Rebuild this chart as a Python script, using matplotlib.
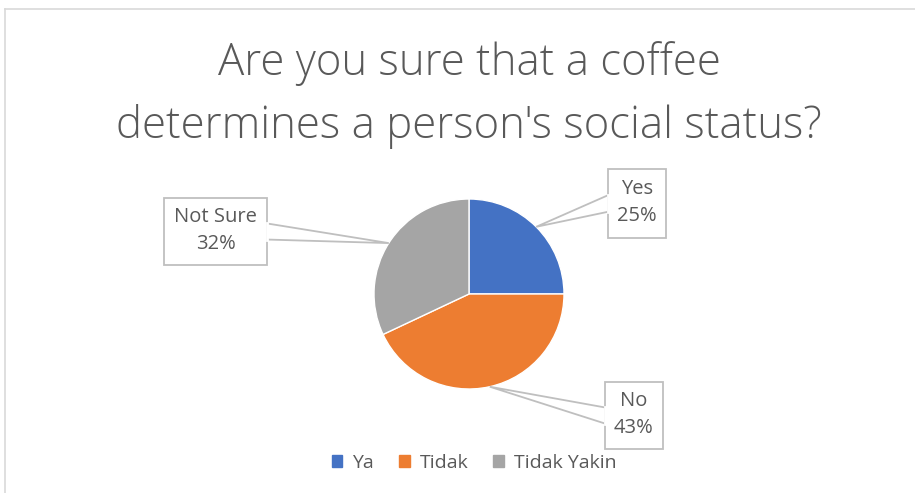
import matplotlib
matplotlib.use("Agg")
import matplotlib.pyplot as plt
from matplotlib.patches import Polygon, Rectangle
import numpy as np

# ── data ──────────────────────────────────────────────────────────────────────
categories   = ["Ya", "Tidak", "Tidak Yakin"]
label_names  = ["Yes", "No", "Not Sure"]
shares       = [25, 43, 32]
colors       = ["#4472C4", "#ED7D31", "#A5A5A5"]
title_text   = "Are you sure that a coffee\ndetermines a person's social status?"

# ── layout (pixel space, y measured from the top) ─────────────────────────────
W, H = 915, 493
CX, CY, R = 469, 294, 95
# label boxes: (left, top, right, bottom)
boxes = [(608, 169, 666, 238), (605, 382, 663, 449), (164, 198, 267, 265)]
TEXT = "#595959"
LINE = "#BFBFBF"

plt.rcParams["font.family"] = ["Open Sans", "DejaVu Sans"]

fig = plt.figure(figsize=(W / 100, H / 100), dpi=100)
ax = fig.add_axes([0, 0, 1, 1])
ax.set_xlim(0, W)
ax.set_ylim(0, H)
ax.set_aspect("equal")
ax.axis("off")


def fy(y):
    return H - y


# chart frame (top and left edges visible)
ax.plot([5, W], [fy(9), fy(9)], color="#D9D9D9", lw=1.2)
ax.plot([5, 5], [fy(9), 0], color="#D9D9D9", lw=1.2)

wedges, _ = ax.pie(shares, colors=colors, startangle=90, counterclock=False,
                   center=(CX, fy(CY)), radius=R,
                   wedgeprops=dict(edgecolor="white", linewidth=1.0))
ax.set_xlim(0, W)
ax.set_ylim(0, H)

# callout boxes with pointers to the middle of each slice
for w, name, val, (l, t, r, b) in zip(wedges, label_names, shares, boxes):
    mid = np.deg2rad((w.theta1 + w.theta2) / 2)
    px, py = CX + R * np.cos(mid), CY - R * np.sin(mid)
    bx0, by0, bx1, by1 = l, fy(b), r, fy(t)
    ax.add_patch(Rectangle((bx0, by0), bx1 - bx0, by1 - by0, facecolor="white",
                           edgecolor=LINE, lw=1.3, zorder=3))
    h = by1 - by0
    ex = r if px > r else l
    ya, yb = by0 + h * 0.38, by0 + h * 0.62
    ax.add_patch(Polygon([(ex, ya), (px, fy(py)), (ex, yb)], closed=True,
                         facecolor="white", edgecolor=LINE, lw=1.3, zorder=2))
    ax.plot([ex, ex], [ya, yb], color="white", lw=2, zorder=4)
    ax.text((bx0 + bx1) / 2, (by0 + by1) / 2 + 1, f"{name}\n{val}%",
            ha="center", va="center", fontsize=14.5, color=TEXT,
            linespacing=1.45, zorder=5)

ax.text(CX, fy(95), title_text, ha="center", va="center", fontsize=31.5,
        color=TEXT, linespacing=1.55, fontweight="light")

# legend
leg = fig.legend(handles=[Rectangle((0, 0), 1, 1, color=c) for c in colors],
                 labels=categories, loc="center", bbox_to_anchor=(474 / W, 1 - 463 / H),
                 ncol=3, frameon=False, fontsize=14, handlelength=0.55,
                 handleheight=0.55, handletextpad=0.5, columnspacing=1.3)
for t in leg.get_texts():
    t.set_color(TEXT)

fig.savefig("out.png", dpi=100, facecolor="white")
